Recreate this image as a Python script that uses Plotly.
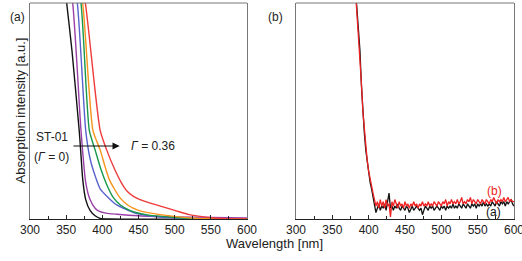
import plotly.graph_objects as go

# ---- Panel (a) data: wavelength [nm] and absorption (fraction of axis height)
black_wl = [340, 350.7, 358, 368, 370, 373, 377, 383, 390, 397, 410, 600]
black_y = [1.3, 1.0, 0.78, 0.41, 0.32, 0.18, 0.09, 0.04, 0.015, 0.003, 0.0, 0.0]

purple_wl = [345, 359, 370.5, 377, 383, 390, 396, 405, 420, 450, 500, 600]
purple_y = [1.3, 1.0, 0.41, 0.17, 0.09, 0.05, 0.035, 0.027, 0.022, 0.015, 0.01, 0.005]

blue_wl = [350, 365.4, 377, 383, 390, 397, 408, 420, 443, 470, 500, 550, 600]
blue_y = [1.3, 1.0, 0.41, 0.28, 0.2, 0.14, 0.1, 0.065, 0.03, 0.012, 0.004, 0.0, 0.0]

green_wl = [355, 370.5, 382, 390, 398, 406, 415, 425, 438, 460, 500, 550, 600]
green_y = [1.3, 1.0, 0.41, 0.32, 0.23, 0.16, 0.1, 0.065, 0.04, 0.02, 0.007, 0.0, 0.0]

orange_wl = [357, 372.8, 387, 397, 404, 410, 424, 435, 450, 480, 520, 560, 600]
orange_y = [1.3, 1.0, 0.41, 0.32, 0.24, 0.18, 0.1, 0.065, 0.04, 0.02, 0.005, 0.0, 0.0]

red_wl = [360, 376.5, 397, 406, 417, 426, 434, 443, 452, 470, 500, 520, 550, 580, 600]
red_y = [1.3, 1.0, 0.41, 0.32, 0.23, 0.17, 0.13, 0.105, 0.09, 0.07, 0.04, 0.02, 0.006, 0.0, 0.0]

series_a = [
    ("ST-01", black_wl, black_y, "#111111"),
    ("2", purple_wl, purple_y, "#9b3fa8"),
    ("3", blue_wl, blue_y, "#5a62cc"),
    ("4", green_wl, green_y, "#17984a"),
    ("5", orange_wl, orange_y, "#f7941d"),
    ("6", red_wl, red_y, "#ee3b3b"),
]

# ---- Panel (b) data
b_wl = [380, 382, 384, 386, 388, 390, 392, 394, 396, 398, 400, 402, 404, 406, 408,
        410, 412, 414, 416, 418, 420, 422, 424, 426, 428, 430, 432, 434, 436, 438,
        440, 442, 444, 446, 448, 450, 452, 454, 456, 458, 460, 462, 464, 466, 468,
        470, 472, 474, 476, 478, 480, 482, 484, 486, 488, 490, 492, 494, 496, 498,
        500, 502, 504, 506, 508, 510, 512, 514, 516, 518, 520, 522, 524, 526, 528,
        530, 532, 534, 536, 538, 540, 542, 544, 546, 548, 550, 552, 554, 556, 558,
        560, 562, 564, 566, 568, 570, 572, 574, 576, 578, 580, 582, 584, 586, 588,
        590, 592, 594, 596, 598, 600]
b_black = [1.15, 1.05, 0.97, 0.88, 0.78, 0.62, 0.48, 0.40, 0.32, 0.26, 0.22, 0.17, 0.14, 0.10, 0.07,
           0.03, 0.05, 0.07, 0.04, 0.06, 0.05, 0.07, 0.04, 0.08, 0.12, 0.05, 0.06, 0.04, 0.06, 0.05,
           0.07, 0.05, 0.04, 0.06, 0.05, 0.04, 0.06, 0.05, 0.03, 0.05, 0.06, 0.04, 0.05, 0.06, 0.05,
           0.04, 0.05, 0.02, 0.04, 0.06, 0.05, 0.04, 0.06, 0.05, 0.06, 0.04, 0.05, 0.06, 0.05, 0.04,
           0.06, 0.05, 0.06, 0.04, 0.06, 0.05, 0.06, 0.05, 0.07, 0.05, 0.06, 0.05, 0.07, 0.06, 0.05,
           0.07, 0.06, 0.05, 0.07, 0.06, 0.05, 0.07, 0.06, 0.07, 0.05, 0.07, 0.06, 0.07, 0.06, 0.08,
           0.06, 0.07, 0.06, 0.07, 0.06, 0.08, 0.07, 0.06, 0.08, 0.07, 0.06, 0.08, 0.07, 0.08, 0.06,
           0.08, 0.07, 0.08, 0.09, 0.07, 0.06]
b_red = [1.15, 1.05, 0.96, 0.87, 0.78, 0.63, 0.50, 0.41, 0.33, 0.27, 0.22, 0.18, 0.15, 0.12, 0.09,
         0.06, 0.08, 0.05, 0.09, 0.06, 0.08, 0.05, 0.09, 0.06, 0.07, 0.01, 0.08, 0.06, 0.09, 0.07,
         0.05, 0.08, 0.06, 0.07, 0.05, 0.08, 0.06, 0.07, 0.05, 0.07, 0.06, 0.08, 0.06, 0.07, 0.05,
         0.07, 0.06, 0.08, 0.06, 0.07, 0.06, 0.08, 0.06, 0.07, 0.06, 0.08, 0.07, 0.06, 0.08, 0.07,
         0.06, 0.08, 0.07, 0.09, 0.06, 0.08, 0.07, 0.09, 0.07, 0.08, 0.07, 0.09, 0.07, 0.08, 0.10,
         0.07, 0.08, 0.07, 0.09, 0.08, 0.10, 0.07, 0.09, 0.08, 0.07, 0.09, 0.08, 0.07, 0.09, 0.08,
         0.07, 0.09, 0.08, 0.07, 0.09, 0.08, 0.10, 0.08, 0.07, 0.09, 0.08, 0.09, 0.08, 0.10, 0.08,
         0.09, 0.10, 0.08, 0.09, 0.08, 0.08]

tick_vals = [300, 350, 400, 450, 500, 550, 600]
tick_text = ["300", "350", "400", "450", "500", "550", "600"]

W, H = 522, 261
T, B = 3, 42
PH = H - T - B  # plot-area height


def py(ypx):
    """convert a pixel row into paper y (paper spans the plotting region)"""
    return (H - B - ypx) / PH


FONT = "Liberation Sans, Arial, sans-serif"

fig = go.Figure()
for name, wl, y, c in series_a:
    fig.add_trace(go.Scatter(x=wl, y=y, mode="lines", line=dict(color=c, width=1.4, shape="spline", smoothing=0.6),
                             xaxis="x", yaxis="y", showlegend=False, name=name))
fig.add_trace(go.Scatter(x=b_wl, y=b_black, mode="lines", line=dict(color="#111111", width=1.3),
                         xaxis="x2", yaxis="y2", showlegend=False, name="(a)"))
fig.add_trace(go.Scatter(x=b_wl, y=b_red, mode="lines", line=dict(color="#ee2222", width=1.3),
                         xaxis="x2", yaxis="y2", showlegend=False, name="(b)"))

xd1 = [30 / W, 247 / W]
xd2 = [296 / W, 514 / W]
ax_common = dict(range=[300, 600], tickvals=tick_vals, ticktext=tick_text, ticks="inside", ticklen=4,
                 tickcolor="#222", showline=True, linecolor="#222", linewidth=1, showgrid=False, zeroline=False,
                 automargin=False, ticklabeloverflow="allow",
                 tickfont=dict(family=FONT, size=12, color="#222"),
                 minor=dict(dtick=25, tick0=300, ticks="inside", ticklen=3, tickcolor="#222"))
ay_common = dict(range=[0, 1], showticklabels=False, ticks="", showgrid=False, zeroline=False,
                 automargin=False,
                 showline=True, linecolor="#777", linewidth=1, mirror=True)

fig.update_layout(
    template="none",
    width=W, height=H, autosize=False, margin=dict(l=0, r=0, t=T, b=B, pad=0),
    paper_bgcolor="white", plot_bgcolor="white",
    font=dict(family=FONT, size=12, color="#222"),
    xaxis=dict(domain=xd1, anchor="y", **ax_common),
    yaxis=dict(domain=[0, 1], anchor="x", **ay_common),
    xaxis2=dict(domain=xd2, anchor="y2", **ax_common),
    yaxis2=dict(domain=[0, 1], anchor="x2", **ay_common),
    shapes=[
        dict(type="line", xref="x domain", yref="y domain", x0=0, x1=1, y0=1, y1=1, line=dict(color="#777", width=1)),
        dict(type="line", xref="x2 domain", yref="y2 domain", x0=0, x1=1, y0=1, y1=1, line=dict(color="#777", width=1)),
    ],
    annotations=[
        dict(text="(a)", xref="paper", yref="paper", x=8 / W, y=py(8), showarrow=False, font=dict(size=12)),
        dict(text="(b)", xref="paper", yref="paper", x=275 / W, y=py(8), showarrow=False, font=dict(size=12)),
        dict(text="Absorption intensity [a.u.]", xref="paper", yref="paper", x=10 / W, y=py(111),
             textangle=-90, showarrow=False, font=dict(size=13)),
        dict(text="Wavelength [nm]", xref="paper", yref="paper", x=274.5 / W, y=py(253),
             showarrow=False, font=dict(size=13)),
        dict(text="ST-01", xref="x", yref="y", x=330.4, y=0.38, showarrow=False, font=dict(size=12)),
        dict(text="(<i>Γ</i> = 0)", xref="x", yref="y", x=330.4, y=0.287, showarrow=False, font=dict(size=12)),
        dict(text="", xref="x", yref="y", x=424, y=0.338, ax=358, ay=0.338, axref="x", ayref="y",
             showarrow=True, arrowhead=2, arrowsize=1.2, arrowwidth=1.2, arrowcolor="#111"),
        dict(text="<i>Γ</i> = 0.36", xref="x", yref="y", x=437, y=0.338, xanchor="left", showarrow=False,
             font=dict(size=12)),
        dict(text="(b)", xref="x2", yref="y2", x=573.5, y=0.13, showarrow=False, font=dict(size=12, color="#ee2222")),
        dict(text="(a)", xref="x2", yref="y2", x=572, y=0.032, showarrow=False, font=dict(size=12, color="#111")),
    ],
)

fig.write_html("out.html", config={"displayModeBar": False},
               post_script="document.body.style.margin='0';document.body.style.overflow='hidden';")
